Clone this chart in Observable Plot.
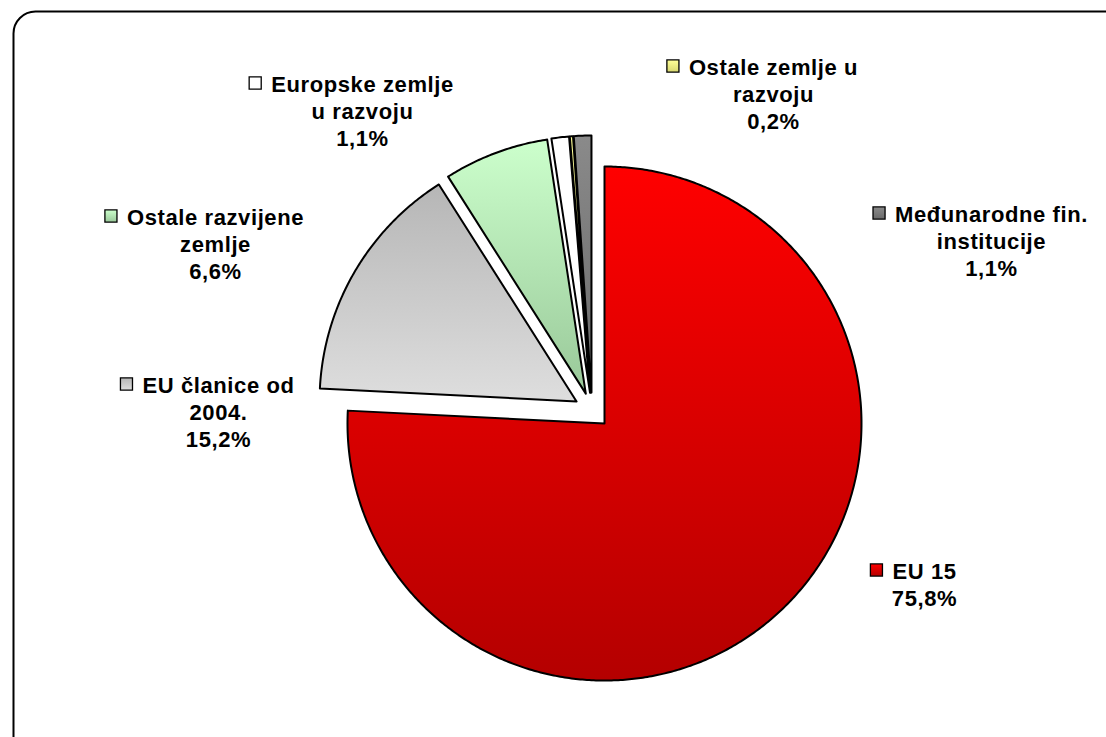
<!DOCTYPE html>
<html>
<head>
<meta charset="utf-8">
<script src="https://cdn.jsdelivr.net/npm/d3@7"></script>
<script src="https://cdn.jsdelivr.net/npm/@observablehq/plot@0.6"></script>
<style>
  html, body { margin: 0; padding: 0; background: #fff; overflow: hidden; }
  #chart svg { display: block; }
  #chart svg text { letter-spacing: 0.6px; }
</style>
</head>
<body>
<div id="chart"></div>
<script>
// ---- data ----
const categories = ["EU 15", "EU članice od 2004.", "Ostale razvijene zemlje", "Europske zemlje u razvoju", "Ostale zemlje u razvoju", "Međunarodne fin. institucije"];
const shares = [75.8, 15.2, 6.6, 1.1, 0.2, 1.1];
const labelLines = [["EU 15"], ["EU članice od", "2004."], ["Ostale razvijene", "zemlje"], ["Europske zemlje", "u razvoju"], ["Ostale zemlje u", "razvoju"], ["Međunarodne fin.", "institucije"]];
const percentLabels = ["75,8%", "15,2%", "6,6%", "1,1%", "0,2%", "1,1%"];

// ---- styles / layout (not data) ----
const gradTop = ["#ff0000", "#b6b6b6", "#ccffcc", "#ffffff", "#ffff99", "#8a8a8a"];
const gradBottom = ["#b40000", "#dedede", "#99c899", "#ffffff", "#d8d870", "#6a6a6a"];
const W = 1106, H = 737;
const R = 257;               // pixels per unit radius
const CX = 591.6, CY = 410;  // pie centre in pixels
const explode = 0.07;        // explode distance (in radius units)
const labelCX = [924, 218, 215, 362, 773, 991];
const labelBase = [578, 392, 224, 91, 74, 221];
const lineGap = 27;
const FONT = "'Liberation Sans', Arial, sans-serif";

const gradIds = categories.map((_, i) => `grad${i}`);
const px2x = p => (p - CX) / R;
const py2y = p => (CY - p) / R;

// ---- pie geometry from the shares ----
const total = d3.sum(shares);
const slicePts = [];
let acc = 0;
shares.forEach((v, i) => {
  const a0 = acc / total * 2 * Math.PI;
  acc += v;
  const a1 = acc / total * 2 * Math.PI;
  const mid = (a0 + a1) / 2;
  const ox = explode * Math.sin(mid), oy = explode * Math.cos(mid);
  const name = categories[i];
  slicePts.push({name, x: ox, y: oy});
  const n = Math.max(2, Math.ceil((a1 - a0) / (Math.PI / 360)));
  for (let k = 0; k <= n; k++) {
    const a = a0 + (a1 - a0) * k / n;
    slicePts.push({name, x: ox + Math.sin(a), y: oy + Math.cos(a)});
  }
  slicePts.push({name, x: ox, y: oy});
});

// ---- labels ----
const canvas = document.createElement("canvas");
const ctx = canvas.getContext("2d");
ctx.font = `bold 22px ${FONT}`;
const textRows = [];
const swatches = [];
categories.forEach((name, i) => {
  const lines = [...labelLines[i], percentLabels[i]];
  lines.forEach((t, j) => {
    textRows.push({name, text: t, x: px2x(labelCX[i]), y: py2y(labelBase[i] + j * lineGap)});
  });
  const first = labelLines[i][0];
  const tw = ctx.measureText(first).width + 0.6 * first.length;
  swatches.push({name, x: px2x(labelCX[i] - tw / 2 - 16), y: py2y(labelBase[i] - 8.5)});
});

const chart = Plot.plot({
  width: W,
  height: H,
  margin: 0,
  style: {background: "#fff", fontFamily: FONT, overflow: "hidden"},
  x: {domain: [px2x(0), px2x(W)], axis: null},
  y: {domain: [py2y(H), py2y(0)], axis: null},
  color: {type: "ordinal", domain: categories, range: gradIds.map(id => `url(#${id})`)},
  marks: [
    Plot.frame({rx: 22, stroke: "#000", strokeWidth: 2, insetLeft: 13, insetTop: 11, insetRight: -40, insetBottom: -40}),
    Plot.line(slicePts, {x: "x", y: "y", z: "name", fill: "name", stroke: "#000", strokeWidth: 2, strokeLinejoin: "round", curve: "linear"}),
    Plot.dot(swatches, {x: "x", y: "y", symbol: "square", r: 6.8, fill: "name", stroke: "#000", strokeWidth: 1.3}),
    Plot.text(textRows, {x: "x", y: "y", text: "text", textAnchor: "middle", lineAnchor: "bottom", fontSize: 22, fontWeight: "bold", fontFamily: FONT, fill: "#000"})
  ]
});

// gradient definitions referenced by the colour scale
const ns = "http://www.w3.org/2000/svg";
const defs = document.createElementNS(ns, "defs");
gradIds.forEach((id, i) => {
  const g = document.createElementNS(ns, "linearGradient");
  g.setAttribute("id", id);
  g.setAttribute("x1", "0"); g.setAttribute("y1", "0");
  g.setAttribute("x2", "0"); g.setAttribute("y2", "1");
  [[0, gradTop[i]], [1, gradBottom[i]]].forEach(([o, c]) => {
    const s = document.createElementNS(ns, "stop");
    s.setAttribute("offset", o);
    s.setAttribute("stop-color", c);
    g.appendChild(s);
  });
  defs.appendChild(g);
});
chart.insertBefore(defs, chart.firstChild);
document.getElementById("chart").appendChild(chart);
</script>
</body>
</html>
